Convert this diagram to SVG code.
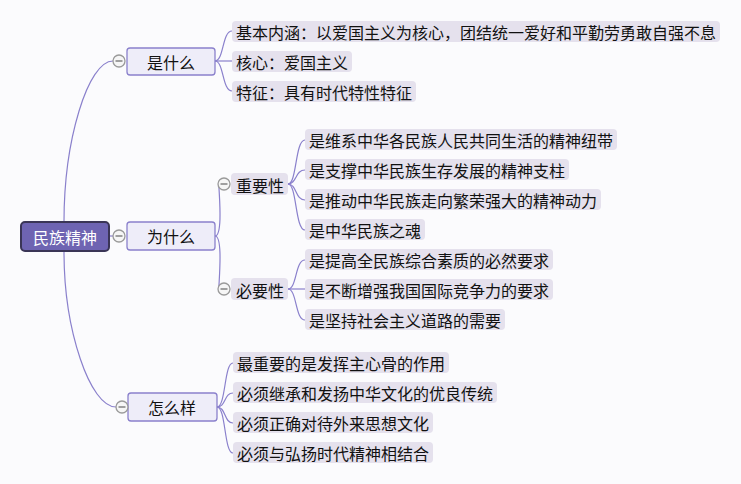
<svg xmlns="http://www.w3.org/2000/svg" width="741" height="484" viewBox="0 0 741 484">
<style>
text{font-family:"Noto Sans CJK SC","Noto Sans CJK JP",sans-serif;font-size:16px;fill:#111;dominant-baseline:central}
.c{text-anchor:middle}
.root rect{fill:#6e64b2;stroke:#3a3556;stroke-width:2}
.root text{fill:#fff}
.l1 rect{fill:#eeedf9;stroke:#8a80cc;stroke-width:1.3}
.leaf rect{fill:#e5e1ed}
.con path{fill:none;stroke:#8a80cc;stroke-width:1.2}
.tog circle{fill:#f6f6f6;stroke:#9a9a9a;stroke-width:1.3}
.tog path{stroke:#707070;stroke-width:1.3}
</style>
<rect width="741" height="484" fill="#fbfbfd"/>
<g id="connectors" class="con">
<path d="M64,222 C64,140 88,61 113,61"/>
<path d="M110,236 L113,236"/>
<path d="M64,252 C64,330 90,407 116,407"/>
<path d="M215,61 C224,61 222,31 232,31"/>
<path d="M215,61 L232,61"/>
<path d="M215,61 C224,61 222,91 232,91"/>
<path d="M215,236 C224,236 218,184 219,184"/>
<path d="M215,236 C224,236 218,289 219,289"/>
<path d="M288,184 C297,184 295,140 305,140"/>
<path d="M288,184 C297,184 295,170 305,170"/>
<path d="M288,184 C297,184 295,200 305,200"/>
<path d="M288,184 C297,184 295,230 305,230"/>
<path d="M288,289 C297,289 295,260 305,260"/>
<path d="M288,289 L305,289"/>
<path d="M288,289 C297,289 295,320 305,320"/>
<path d="M217,407 C226,407 224,363 233,363"/>
<path d="M217,407 C226,407 224,393 233,393"/>
<path d="M217,407 C226,407 224,423 233,423"/>
<path d="M217,407 C226,407 224,453 233,453"/>
</g>
<g id="root" class="root"><rect x="21" y="222" width="88" height="29" rx="4"/><text class="c" x="65" y="237">民族精神</text></g>
<g id="n-shi" class="l1"><rect x="127" y="48" width="88" height="27" rx="3"/><text class="c" x="171" y="62">是什么</text></g>
<g id="n-wei" class="l1"><rect x="127" y="222" width="88" height="28" rx="3"/><text class="c" x="171" y="236">为什么</text></g>
<g id="n-zen" class="l1"><rect x="128" y="393" width="89" height="28" rx="3"/><text class="c" x="172" y="407">怎么样</text></g>
<g id="n-zhong" class="leaf"><rect x="231" y="173" width="57" height="22" rx="4"/><text x="236" y="184.5">重要性</text></g>
<g id="n-bi" class="leaf"><rect x="231" y="278" width="57" height="22" rx="4"/><text x="236" y="289.5">必要性</text></g>
<g id="a1" class="leaf"><rect x="232" y="21" width="488" height="21" rx="4"/><text x="236" y="32">基本内涵：以爱国主义为核心，团结统一爱好和平勤劳勇敢自强不息</text></g>
<g id="a2" class="leaf"><rect x="232" y="51" width="120" height="21" rx="4"/><text x="236" y="62">核心：爱国主义</text></g>
<g id="a3" class="leaf"><rect x="232" y="81" width="184" height="21" rx="4"/><text x="236" y="92">特征：具有时代特性特征</text></g>
<g id="b1" class="leaf"><rect x="305" y="129" width="312" height="21" rx="4"/><text x="309" y="140">是维系中华各民族人民共同生活的精神纽带</text></g>
<g id="b2" class="leaf"><rect x="305" y="159" width="264" height="21" rx="4"/><text x="309" y="170">是支撑中华民族生存发展的精神支柱</text></g>
<g id="b3" class="leaf"><rect x="305" y="189" width="296" height="21" rx="4"/><text x="309" y="200">是推动中华民族走向繁荣强大的精神动力</text></g>
<g id="b4" class="leaf"><rect x="305" y="219" width="120" height="21" rx="4"/><text x="309" y="230">是中华民族之魂</text></g>
<g id="b5" class="leaf"><rect x="305" y="249" width="248" height="21" rx="4"/><text x="309" y="260">是提高全民族综合素质的必然要求</text></g>
<g id="b6" class="leaf"><rect x="305" y="279" width="248" height="21" rx="4"/><text x="309" y="290">是不断增强我国国际竞争力的要求</text></g>
<g id="b7" class="leaf"><rect x="305" y="309" width="200" height="21" rx="4"/><text x="309" y="320">是坚持社会主义道路的需要</text></g>
<g id="c1" class="leaf"><rect x="233" y="352" width="216" height="21" rx="4"/><text x="237" y="363">最重要的是发挥主心骨的作用</text></g>
<g id="c2" class="leaf"><rect x="233" y="382" width="264" height="21" rx="4"/><text x="237" y="393">必须继承和发扬中华文化的优良传统</text></g>
<g id="c3" class="leaf"><rect x="233" y="412" width="200" height="21" rx="4"/><text x="237" y="423">必须正确对待外来思想文化</text></g>
<g id="c4" class="leaf"><rect x="233" y="442" width="200" height="21" rx="4"/><text x="237" y="453">必须与弘扬时代精神相结合</text></g>
<g id="toggles" class="tog">
<circle cx="119" cy="61" r="6"/><path d="M115.5,61 H122.5"/>
<circle cx="119" cy="236" r="6"/><path d="M115.5,236 H122.5"/>
<circle cx="122" cy="407" r="6"/><path d="M118.5,407 H125.5"/>
<circle cx="224" cy="184" r="6"/><path d="M220.5,184 H227.5"/>
<circle cx="224" cy="289" r="6"/><path d="M220.5,289 H227.5"/>
</g>
</svg>
